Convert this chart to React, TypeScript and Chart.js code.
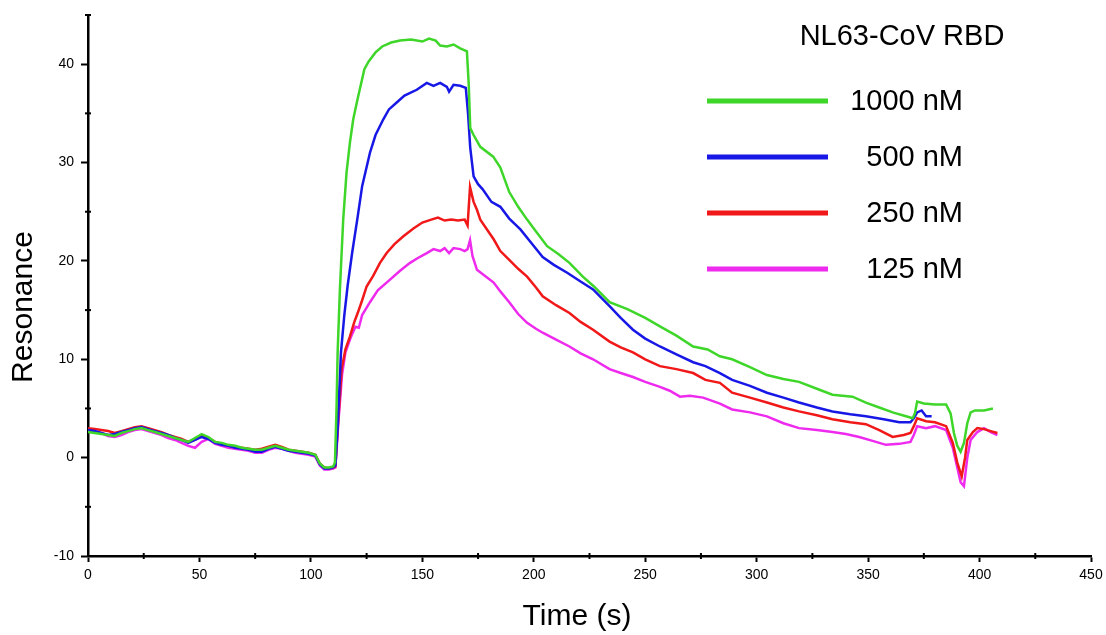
import React, { useEffect, useRef } from 'react';
import { Chart, registerables } from 'chart.js';

Chart.register(...registerables);

// ---------- data (time s, resonance) ----------
const labels1000 = '1000 nM';
const labels500 = '500 nM';
const labels250 = '250 nM';
const labels125 = '125 nM';

const legendTitle = 'NL63-CoV RBD';
const xAxisTitle = 'Time (s)';
const yAxisTitle = 'Resonance';

const xTicksMajor = [0, 50, 100, 150, 200, 250, 300, 350, 400, 450];
const yTicksMajor = [-10, 0, 10, 20, 30, 40];

const conc1000: [number, number][] = [
  [0, 2.6], [3, 2.5], [6, 2.4], [9, 2.3], [12, 2.2], [15, 2.5], [18, 2.7], [21, 2.9], [24, 3.0], [27, 2.8], [30, 2.6], [33, 2.4], [36, 2.2], [39, 2.0], [42, 1.8], [45, 1.6], [48, 2.0], [51, 2.4], [54, 2.1], [57, 1.6], [60, 1.5], [63, 1.3], [66, 1.2], [69, 1.0], [72, 0.9], [75, 0.8], [78, 0.8], [81, 1.0], [84, 1.2], [87, 1.0], [90, 0.8], [93, 0.7], [96, 0.6], [99, 0.5], [102, 0.3], [104, -0.6], [106, -1.0], [108, -1.0], [110, -0.9],
  [110.8, -0.5], [111.5, 5], [112, 10.7], [113, 17], [114.5, 24.2], [116, 29], [117.5, 32], [119, 34.4], [121, 36.5], [124, 39.5], [126, 40.3], [129, 41.2], [132, 41.8], [136, 42.2], [140, 42.4], [145, 42.5], [150, 42.3], [153, 42.6], [156, 42.4], [158, 41.9], [161, 41.8], [164, 42.0], [167, 41.6], [170, 41.3],
  [170.8, 38], [171.5, 33.5], [173, 32.8], [176, 31.6], [181.8, 30.6], [185, 29.5], [189, 27], [193, 25.5], [197, 24.2], [201, 23], [206, 21.5], [211, 20.7], [216, 19.8], [222, 18.4], [227, 17.4], [234, 15.8], [242, 15.1], [250, 14.2], [257, 13.3], [264, 12.4], [271.5, 11.3], [278, 11.0], [283.5, 10.3], [289, 10], [297, 9.2], [304.6, 8.4], [312, 8.0], [319, 7.7], [327, 7.0], [334, 6.4], [343, 6.2], [349, 5.6], [355, 5.1], [361, 4.6], [367, 4.2], [370, 4.0], [371, 4.5], [372, 5.7], [375, 5.5], [380, 5.4], [385, 5.4], [387, 4.5], [388.5, 2.5], [390, 1.2], [391.5, 0.6], [393, 1.5], [394.5, 3.5], [396, 4.6], [398, 4.8], [402, 4.8], [406, 5.0],
];

const conc500: [number, number][] = [
  [0, 2.8], [3, 2.7], [6, 2.5], [9, 2.3], [12, 2.4], [15, 2.6], [18, 2.8], [21, 3.0], [24, 3.1], [27, 2.9], [30, 2.7], [33, 2.5], [36, 2.3], [39, 2.0], [42, 1.8], [45, 1.5], [48, 1.8], [51, 2.1], [54, 1.9], [57, 1.5], [60, 1.3], [63, 1.2], [66, 1.0], [69, 0.9], [72, 0.8], [75, 0.6], [78, 0.6], [81, 0.9], [84, 1.1], [87, 0.9], [90, 0.7], [93, 0.6], [96, 0.5], [99, 0.4], [102, 0.2], [104, -0.7], [106, -1.1], [108, -1.1], [110, -1.0],
  [111, -0.8], [112, 3], [113.5, 10.7], [115, 14.5], [116.5, 17.5], [118.5, 20.8], [121, 24.5], [123, 27.6], [126.5, 31], [129, 32.8], [132.5, 34.4], [135, 35.4], [138.5, 36.1], [142, 36.8], [147.5, 37.4], [152, 38.1], [155, 37.8], [158, 38.1], [161, 37.7], [162, 37.2], [164, 37.9], [167, 37.8], [169.5, 37.6],
  [170.5, 35], [171.5, 31.5], [173, 28.6], [175, 27.8], [177, 27.3], [181, 26], [185, 25.5], [189, 24.3], [194, 23.2], [199, 21.8], [204, 20.4], [209, 19.6], [215, 18.8], [221, 17.9], [226.6, 17.1], [234, 15.4], [239, 14.2], [244.5, 13], [250, 12.1], [256.6, 11.3], [264, 10.5], [271.5, 9.7], [277, 9.3], [283.5, 8.6], [289, 7.9], [297, 7.3], [304.6, 6.6], [312, 6.1], [319, 5.6], [327, 5.1], [334, 4.7], [342, 4.4], [349, 4.2], [357, 3.9], [364, 3.6], [369, 3.6], [370.5, 4.0], [372, 4.6], [374, 4.8], [376, 4.2], [378.5, 4.2],
];

const conc250: [number, number][] = [
  [0, 3.0], [3, 2.9], [6, 2.8], [9, 2.7], [12, 2.5], [15, 2.7], [18, 2.9], [21, 3.1], [24, 3.2], [27, 3.0], [30, 2.8], [33, 2.6], [36, 2.3], [39, 2.1], [42, 1.9], [45, 1.6], [48, 1.8], [51, 2.2], [54, 2.0], [57, 1.6], [60, 1.4], [63, 1.2], [66, 1.1], [69, 1.0], [72, 0.9], [75, 0.8], [78, 0.9], [81, 1.1], [84, 1.3], [87, 1.1], [90, 0.8], [93, 0.7], [96, 0.6], [99, 0.5], [102, 0.3], [104, -0.6], [106, -1.0], [108, -1.1], [110, -1.0],
  [111, -0.9], [112.3, 3.9], [113.8, 9], [115.5, 11], [117.5, 12.3], [119.5, 13.8], [121, 14.7], [123, 16.0], [125, 17.4], [128, 18.5], [131, 19.8], [134, 20.8], [137.5, 21.7], [141.5, 22.5], [146, 23.3], [150, 23.9], [154, 24.2], [157, 24.4], [160, 24.1], [163, 24.2], [166, 24.1], [169, 24.2], [170.3, 23.6],
  [171.4, 27.5], [173, 26], [174.5, 25.2], [176, 24.2], [179, 23.2], [182, 22.2], [185, 21.0], [189, 20.1], [193, 19.2], [197, 18.4], [201, 17.3], [204, 16.4], [210, 15.5], [216, 14.7], [221, 13.8], [226.6, 13], [234, 11.8], [239, 11.2], [244.5, 10.7], [250, 10.0], [256.6, 9.3], [264, 9.0], [271.5, 8.6], [277, 7.9], [283.5, 7.6], [289, 6.6], [297, 6.1], [304.6, 5.6], [312, 5.1], [319, 4.7], [327, 4.3], [334, 3.9], [342, 3.6], [349, 3.4], [355, 2.8], [361, 2.1], [366, 2.3], [369, 2.5], [370.5, 3.2], [372, 4.0], [376, 3.7], [380, 3.6], [385, 3.2], [388, 1.5], [390, -0.5], [392, -1.9], [393.5, 0], [394.5, 1.8], [397, 2.6], [399, 3.0], [402, 2.9], [405, 2.7], [408, 2.5],
];

const conc125: [number, number][] = [
  [0, 2.7], [3, 2.6], [6, 2.5], [9, 2.2], [12, 2.1], [15, 2.3], [18, 2.6], [21, 2.8], [24, 2.9], [27, 2.7], [30, 2.5], [33, 2.3], [36, 2.0], [39, 1.8], [42, 1.5], [45, 1.2], [48, 1.0], [51, 1.6], [54, 1.9], [57, 1.4], [60, 1.2], [63, 1.0], [66, 0.9], [69, 0.8], [72, 0.7], [75, 0.5], [78, 0.5], [81, 0.8], [84, 1.0], [87, 0.9], [90, 0.7], [93, 0.5], [96, 0.4], [99, 0.3], [102, 0.1], [104, -0.8], [106, -1.2], [108, -1.2], [110, -1.1],
  [111, -1.0], [112.3, 3.5], [114, 8.5], [115.5, 10.7], [118, 12.3], [120, 13.3], [121.5, 13.2], [123, 14.5], [126.5, 15.8], [130, 17], [135.5, 18.1], [140, 19], [144.5, 19.8], [148, 20.3], [152, 20.8], [155, 21.2], [158, 21.0], [160, 21.3], [162, 20.8], [164, 21.3], [167, 21.2], [169, 21.0], [170.3, 21.2],
  [171.4, 22.1], [172.5, 20.5], [174.5, 19.1], [178, 18.5], [182, 17.8], [185, 16.9], [189, 15.8], [193, 14.6], [197, 13.7], [201, 13.1], [204, 12.7], [210, 12.0], [216, 11.3], [221, 10.6], [226.6, 10], [234, 9.0], [239, 8.6], [244.5, 8.2], [250, 7.7], [256.6, 7.2], [261, 6.8], [265.6, 6.2], [270, 6.3], [276, 6.1], [283.5, 5.5], [289, 4.9], [297, 4.6], [304.6, 4.2], [312, 3.5], [319, 3.0], [327, 2.8], [334, 2.6], [340, 2.4], [346, 2.1], [352, 1.7], [358, 1.3], [364, 1.4], [369, 1.6], [370.5, 2.3], [372, 3.2], [376, 3.0], [380, 3.2], [385, 2.8], [388, 1.0], [390, -1.0], [391.5, -2.5], [393, -2.9], [394.5, 0], [396, 1.8], [399, 2.6], [402, 3.0], [405, 2.6], [408, 2.3],
];

const FONT = '"Liberation Sans", Arial, Helvetica, sans-serif';

const isMajorX = (v: number) => xTicksMajor.includes(v);
const isMajorY = (v: number) => yTicksMajor.includes(v);

const extrasPlugin = {
  id: 'extras',
  afterDraw(chart: any) {
    const { ctx, chartArea, scales } = chart;
    const xs = scales.x;
    const ys = scales.y;
    ctx.save();
    // minor ticks
    ctx.strokeStyle = '#000';
    ctx.lineWidth = 2;
    xs.ticks.forEach((t: any) => {
      if (!isMajorX(t.value)) {
        const px = xs.getPixelForValue(t.value);
        ctx.beginPath();
        ctx.moveTo(px, chartArea.bottom - 3);
        ctx.lineTo(px, chartArea.bottom + 3);
        ctx.stroke();
      }
    });
    ys.ticks.forEach((t: any) => {
      if (!isMajorY(t.value)) {
        const py = ys.getPixelForValue(t.value);
        ctx.beginPath();
        ctx.moveTo(chartArea.left - 3, py);
        ctx.lineTo(chartArea.left + 3, py);
        ctx.stroke();
      }
    });
    // axis titles
    ctx.fillStyle = '#000';
    ctx.font = `30px ${FONT}`;
    ctx.textAlign = 'center';
    ctx.textBaseline = 'middle';
    ctx.fillText(xAxisTitle, 577, 617);
    ctx.save();
    ctx.translate(24, 307);
    ctx.rotate(-Math.PI / 2);
    ctx.fillText(yAxisTitle, 0, 0);
    ctx.restore();
    // legend
    ctx.font = `29px ${FONT}`;
    ctx.textAlign = 'center';
    ctx.fillText(legendTitle, 902, 37);
    chart.data.datasets.forEach((ds: any, i: number) => {
      const y = 101 + i * 56;
      ctx.strokeStyle = ds.borderColor;
      ctx.lineWidth = 5;
      ctx.beginPath();
      ctx.moveTo(707, y);
      ctx.lineTo(828, y);
      ctx.stroke();
      ctx.textAlign = 'right';
      ctx.fillStyle = '#000';
      ctx.fillText(ds.label, 963, y + 1);
    });
    ctx.restore();
  },
};

export default function App() {
  const ref = useRef<HTMLCanvasElement | null>(null);
  useEffect(() => {
    if (!ref.current) return;
    const mk = (label: string, pts: [number, number][], color: string) => ({
      label,
      data: pts.map(([x, y]) => ({ x, y })),
      borderColor: color,
      backgroundColor: color,
      borderWidth: 2.5,
      pointRadius: 0,
      tension: 0,
      fill: false,
    });
    const chart = new Chart(ref.current, {
      type: 'line',
      data: {
        datasets: [
          mk(labels1000, conc1000, '#3fd62a'),
          mk(labels500, conc500, '#1717e6'),
          mk(labels250, conc250, '#f01818'),
          mk(labels125, conc125, '#ee2aee'),
        ],
      },
      options: {
        animation: false,
        responsive: false,
        maintainAspectRatio: false,
        devicePixelRatio: 1,
        layout: { padding: { top: 15, right: 15, left: 0, bottom: 0 } },
        plugins: { legend: { display: false }, tooltip: { enabled: false } },
        scales: {
          x: {
            type: 'linear',
            min: 0,
            max: 450,
            ticks: {
              stepSize: 25,
              autoSkip: false,
              maxRotation: 0,
              padding: 5,
              color: '#000',
              font: { family: FONT, size: 14 },
              callback: (v: any) => (isMajorX(Number(v)) ? String(v) : ''),
            },
            grid: {
              display: true,
              drawOnChartArea: false,
              drawTicks: true,
              tickLength: 6,
              tickWidth: 2,
              tickColor: (c: any) => (c.tick && isMajorX(c.tick.value) ? '#000' : 'rgba(0,0,0,0)'),
            },
            border: { display: true, color: '#000', width: 2.5 },
            afterFit: (s: any) => {
              s.height = 79;
              s.paddingLeft = 0;
              s.paddingRight = 0;
            },
          },
          y: {
            type: 'linear',
            min: -10,
            max: 45,
            ticks: {
              stepSize: 5,
              autoSkip: false,
              padding: 7,
              color: '#000',
              font: { family: FONT, size: 14 },
              callback: (v: any) => (isMajorY(Number(v)) ? String(v) : ''),
            },
            grid: {
              display: true,
              drawOnChartArea: false,
              drawTicks: true,
              tickLength: 7,
              tickWidth: 2,
              tickColor: (c: any) => (c.tick && isMajorY(c.tick.value) ? '#000' : 'rgba(0,0,0,0)'),
            },
            border: { display: true, color: '#000', width: 2.5 },
            afterFit: (s: any) => {
              s.width = 88;
              s.paddingTop = 0;
              s.paddingBottom = 0;
            },
          },
        },
      },
      plugins: [extrasPlugin],
    } as any);
    return () => chart.destroy();
  }, []);
  return (
    <div style={{ position: 'absolute', left: 0, top: 0, width: 1106, height: 635, background: '#fff' }}>
      <canvas ref={ref} width={1106} height={635} style={{ display: 'block' }} />
    </div>
  );
}
